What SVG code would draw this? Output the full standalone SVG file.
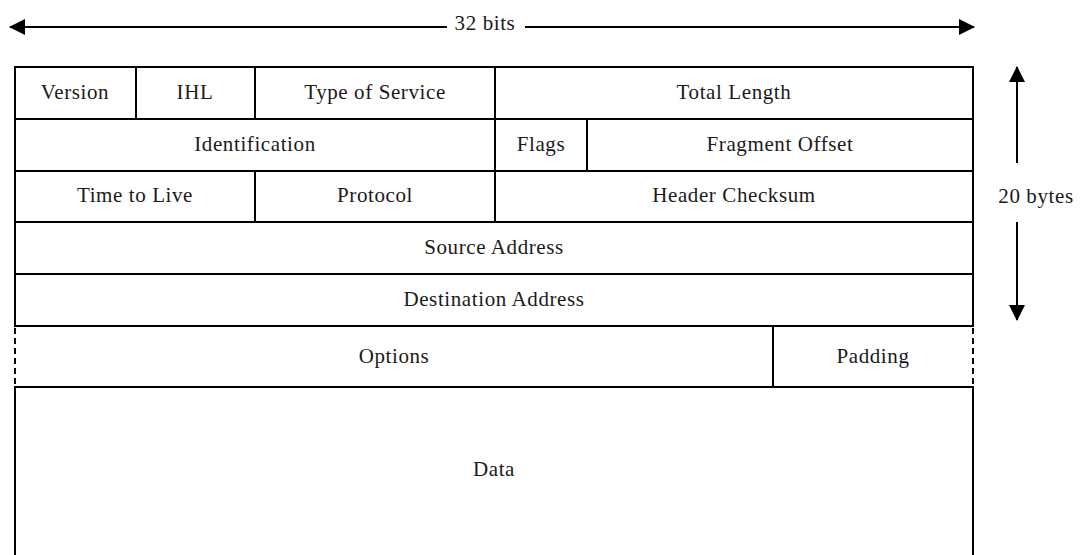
<svg xmlns="http://www.w3.org/2000/svg" width="1086" height="555" viewBox="0 0 1086 555">
  <style>
    .grid { stroke: #000; stroke-width: 2; fill: none; }
    .dash { stroke: #000; stroke-width: 2; fill: none; stroke-dasharray: 6 4; }
    .lbl { font-family: "Liberation Serif", "DejaVu Serif", serif; font-size: 21px; fill: #1a1a1a; text-anchor: middle; letter-spacing: 0.6px; }
    .dim { stroke: #000; stroke-width: 2; fill: none; }
  </style>
  <defs>
    <marker id="head" viewBox="0 0 16 16" refX="15" refY="8" markerWidth="16" markerHeight="16" markerUnits="userSpaceOnUse" orient="auto">
      <path d="M0,0 L16,8 L0,16 Z" fill="#000"/>
    </marker>
  </defs>

  <rect width="1086" height="555" fill="#fff"/>

  <!-- dimension arrows -->
  <g id="connectors">
    <line class="dim" x1="447" y1="27" x2="10" y2="27" marker-end="url(#head)"/>
    <line class="dim" x1="525" y1="27" x2="974" y2="27" marker-end="url(#head)"/>
    <line class="dim" x1="1017" y1="163" x2="1017" y2="67" marker-end="url(#head)"/>
    <line class="dim" x1="1017" y1="222" x2="1017" y2="320" marker-end="url(#head)"/>
  </g>
  <g id="width-label"><text class="lbl" x="485" y="30">32 bits</text></g>
  <g id="height-label"><text class="lbl" x="1036" y="203">20 bytes</text></g>

  <!-- header rows -->
  <g id="frame">
    <line class="grid" x1="15" y1="67" x2="973" y2="67"/>
    <line class="grid" x1="15" y1="119" x2="973" y2="119"/>
    <line class="grid" x1="15" y1="171" x2="973" y2="171"/>
    <line class="grid" x1="15" y1="222" x2="973" y2="222"/>
    <line class="grid" x1="15" y1="274" x2="973" y2="274"/>
    <line class="grid" x1="15" y1="326" x2="973" y2="326"/>
    <line class="grid" x1="15" y1="387" x2="973" y2="387"/>
    <line class="grid" x1="15" y1="66" x2="15" y2="327"/>
    <line class="grid" x1="973" y1="66" x2="973" y2="327"/>
    <line class="dash" x1="15" y1="328" x2="15" y2="386"/>
    <line class="dash" x1="973" y1="328" x2="973" y2="386"/>
    <line class="grid" x1="15" y1="386" x2="15" y2="555"/>
    <line class="grid" x1="973" y1="386" x2="973" y2="555"/>
    <!-- field dividers -->
    <line class="grid" x1="136" y1="67" x2="136" y2="119"/>
    <line class="grid" x1="255" y1="67" x2="255" y2="119"/>
    <line class="grid" x1="495" y1="67" x2="495" y2="222"/>
    <line class="grid" x1="587" y1="119" x2="587" y2="171"/>
    <line class="grid" x1="255" y1="171" x2="255" y2="222"/>
    <line class="grid" x1="773" y1="326" x2="773" y2="387"/>
  </g>

  <g id="version"><text class="lbl" x="75" y="99">Version</text></g>
  <g id="ihl"><text class="lbl" x="195" y="99">IHL</text></g>
  <g id="tos"><text class="lbl" x="375" y="99">Type of Service</text></g>
  <g id="total-length"><text class="lbl" x="734" y="99">Total Length</text></g>

  <g id="identification"><text class="lbl" x="255" y="151">Identification</text></g>
  <g id="flags"><text class="lbl" x="541" y="151">Flags</text></g>
  <g id="fragment-offset"><text class="lbl" x="780" y="151">Fragment Offset</text></g>

  <g id="ttl"><text class="lbl" x="135" y="202">Time to Live</text></g>
  <g id="protocol"><text class="lbl" x="375" y="202">Protocol</text></g>
  <g id="checksum"><text class="lbl" x="734" y="202">Header Checksum</text></g>

  <g id="source"><text class="lbl" x="494" y="254">Source Address</text></g>
  <g id="destination"><text class="lbl" x="494" y="306">Destination Address</text></g>

  <g id="options"><text class="lbl" x="394" y="363">Options</text></g>
  <g id="padding"><text class="lbl" x="873" y="363">Padding</text></g>

  <g id="data"><text class="lbl" x="494" y="476">Data</text></g>
</svg>
